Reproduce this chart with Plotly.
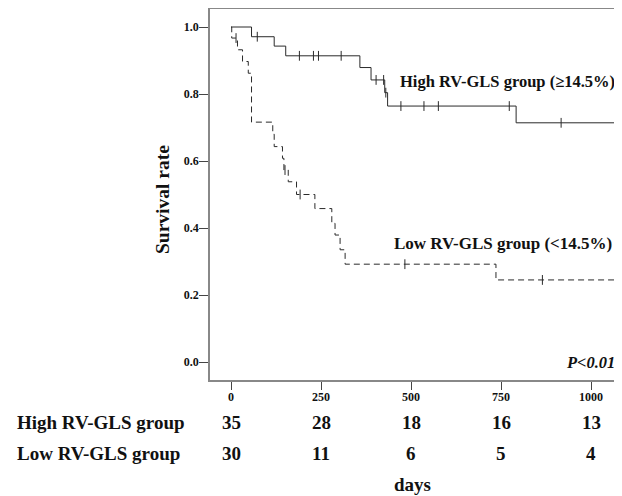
import plotly.graph_objects as go
import numpy as np

# ---- data ----
high_event_days = [0, 57, 120, 152, 358, 389, 427, 435, 792, 1120]
high_survival   = [1.0, 0.971, 0.943, 0.914, 0.879, 0.842, 0.804, 0.764, 0.714, 0.714]
high_censor_days = [73, 190, 229, 243, 306, 403, 424, 430, 472, 536, 576, 773, 917]

low_event_days = [0, 2, 18, 32, 48, 57, 116, 120, 143, 147, 159, 182, 233, 280, 289, 303, 317, 736, 1120]
low_survival   = [1.0, 0.967, 0.932, 0.897, 0.862, 0.716, 0.680, 0.643, 0.608, 0.573, 0.538, 0.500,
                  0.458, 0.414, 0.379, 0.335, 0.292, 0.245, 0.245]
low_censor_days = [14, 150, 192, 483, 865]

risk_days = [0, 250, 500, 750, 1000]
risk_high = [35, 28, 18, 16, 13]
risk_low = [30, 11, 6, 5, 4]

y_ticks = [0.0, 0.2, 0.4, 0.6, 0.8, 1.0]

FONT = "Liberation Serif"
LINE = "#2a2a2a"
OFF = 8  # page body margin: screen px = figure px + OFF


def surv_at(days, surv, t):
    idx = np.searchsorted(np.array(days), t, side="right") - 1
    return surv[idx]


fig = go.Figure()

fig.add_trace(go.Scatter(x=high_event_days, y=high_survival, mode="lines",
                         line=dict(color=LINE, width=1, shape="hv"), showlegend=False))
fig.add_trace(go.Scatter(x=high_censor_days,
                         y=[surv_at(high_event_days, high_survival, t) for t in high_censor_days],
                         mode="markers",
                         marker=dict(symbol="line-ns-open", size=7, color=LINE,
                                     line=dict(color=LINE, width=1)),
                         showlegend=False))

fig.add_trace(go.Scatter(x=low_event_days, y=low_survival, mode="lines",
                         line=dict(color=LINE, width=1, shape="hv", dash="6px,4px"), showlegend=False))
fig.add_trace(go.Scatter(x=low_censor_days,
                         y=[surv_at(low_event_days, low_survival, t) for t in low_censor_days],
                         mode="markers",
                         marker=dict(symbol="line-ns-open", size=7, color=LINE,
                                     line=dict(color=LINE, width=1)),
                         showlegend=False))

# layout in figure pixels (reference measured in screen px, minus OFF)
L = 210 - OFF
T = 8 - OFF + 1
W, H = 622, 496
Bpix = 380 - OFF           # bottom axis line (figure px)
B = H - Bpix
R = 0
pw = W - L - R
ph = Bpix - T


def py(screen_y):
    return (Bpix - (screen_y - OFF)) / ph


def px(screen_x):
    return ((screen_x - OFF) - L) / pw


annots = []
bold = dict(family=FONT, color="#111", weight="bold")


def ann(text, x, y, xref="paper", yref="paper", xanchor="center", size=19, **kw):
    font = kw.pop("font", dict(size=size, **bold))
    annots.append(dict(text=text, x=x, y=y, xref=xref, yref=yref, xanchor=xanchor,
                       yanchor="middle", showarrow=False, font=font, **kw))


ann("Survival rate", px(162), py(200), textangle=-90, size=19.5)
ann("High RV-GLS group", px(15), py(423), xanchor="left")
ann("Low RV-GLS group", px(15), py(453), xanchor="left")
for d, h, l in zip(risk_days, risk_high, risk_low):
    ann(str(h), d, py(422), xref="x")
    ann(str(l), d, py(453), xref="x")
ann("days", px(412), py(484))
ann("High RV-GLS group (≥14.5%)", 464, 0.836, xref="x", yref="y", xanchor="left", size=16.5)
ann("Low RV-GLS group (&lt;14.5%)", 448, 0.355, xref="x", yref="y", xanchor="left", size=17)
ann("P&lt;0.01", 1072, 0.0, xref="x", yref="y", xanchor="right",
    font=dict(size=16.5, family=FONT, color="#111", weight="bold", style="italic"))

# axis ranges: day 0 at screen x 231, 0.36 px/day; survival 0 at screen y 362, 335 px/unit
zero_x = 231 - OFF
x0 = -(zero_x - L) / 0.36
x1 = (W - R - zero_x) / 0.36
zero_y = 362 - OFF
y0 = -(Bpix - zero_y) / 335
y1 = (zero_y - T) / 335

fig.update_layout(
    width=W, height=H,
    margin=dict(l=L, r=R, t=T, b=B, pad=0),
    paper_bgcolor="white", plot_bgcolor="white",
    font=dict(family=FONT, color="#111"),
    annotations=annots,
    xaxis=dict(range=[x0, x1], tickvals=risk_days, ticks="outside", ticklen=8, tickwidth=1,
               tickcolor="#444", showgrid=False, zeroline=False, showline=True,
               linecolor="#888", linewidth=1.5, mirror=True, ticklabelstandoff=-3,
               tickfont=dict(size=12, family=FONT, color="#111", weight="bold")),
    yaxis=dict(range=[y0, y1], tickvals=y_ticks, tickformat=".1f", ticks="outside", ticklen=9,
               tickwidth=1, tickcolor="#444", showgrid=False, zeroline=False, showline=True,
               linecolor="#888", linewidth=1.5, mirror=False, ticklabelstandoff=-2,
               tickfont=dict(size=12, family=FONT, color="#111", weight="bold")),
)

fig.write_html("out.html")
